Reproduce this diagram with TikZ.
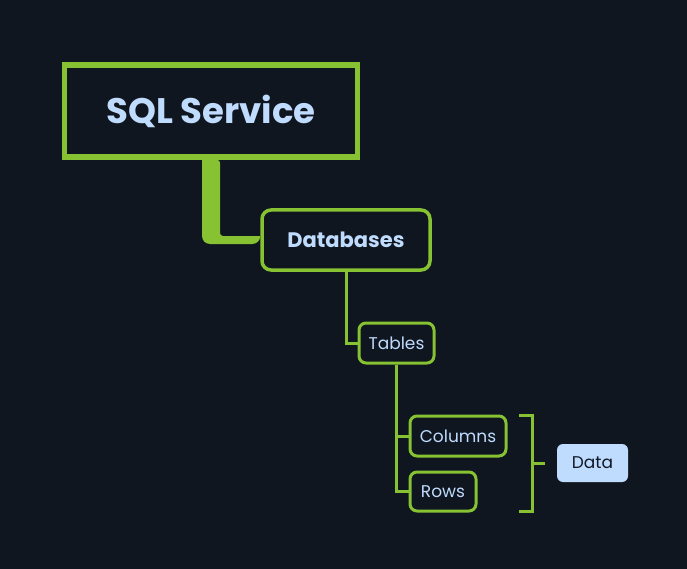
\documentclass[tikz,border=0pt]{standalone}
\usepackage{fontspec}
\setmainfont{Poppins}
\definecolor{bg}{HTML}{10161F}
\definecolor{leaf}{HTML}{86C232}
\definecolor{ink}{HTML}{BFDBFE}
\definecolor{dark}{HTML}{111827}
\begin{document}
\begin{tikzpicture}[x=1pt,y=-1pt,
  box/.style={draw=leaf, fill=bg, text=ink, inner sep=0pt},
  link/.style={draw=leaf, line width=3pt}]
  \fill[bg] (0,0) rectangle (687,569);
  \useasboundingbox (0,0) rectangle (687,569);
  \node (sql) [box, line width=5.6pt, minimum width=293pt, minimum height=92pt, font=\fontsize{35.5}{38}\selectfont\bfseries] at (211,111) {SQL Service};
  \node (db) [box, line width=3.5pt, rounded corners=9pt, minimum width=168pt, minimum height=60pt, font=\fontsize{21}{23}\selectfont\bfseries] at (346,240) {Databases};
  \node (tables) [box, line width=3pt, rounded corners=7pt, minimum width=75pt, minimum height=40pt, font=\fontsize{17}{19}\selectfont] at (396.5,343) {Tables};
  \node (cols) [box, line width=3pt, rounded corners=7pt, minimum width=96pt, minimum height=40pt, font=\fontsize{17}{19}\selectfont] at (458,436) {Columns};
  \node (rows) [box, line width=3pt, rounded corners=7pt, minimum width=66pt, minimum height=39pt, font=\fontsize{17}{19}\selectfont] at (443,491.5) {Rows};
  \node (data) [fill=ink, text=dark, rounded corners=6pt, minimum width=71pt, minimum height=38pt, font=\fontsize{17}{19}\selectfont] at (592.5,463) {Data};
  \fill[leaf] ([xshift=-9pt]sql.south) [rounded corners=8pt] |- ([yshift=-4pt]db.west) [sharp corners] -- ([yshift=4pt]db.west) [rounded corners=3pt] -| ([xshift=9pt]sql.south) [sharp corners] -- cycle;
  \draw[link] (db.south) |- (tables.west);
  \draw[link] (tables.south) |- (cols.west);
  \draw[link] (tables.south) |- (rows.west);
  \coordinate (bt) at (519,415);
  \coordinate (bb) at (519,511);
  \coordinate (bm) at (532,463);
  \draw[link] (bt) -- ++(13,0) -- ++(0,96) -- (bb);
  \draw[link] (bm) -- ++(13,0);
\end{tikzpicture}
\end{document}
